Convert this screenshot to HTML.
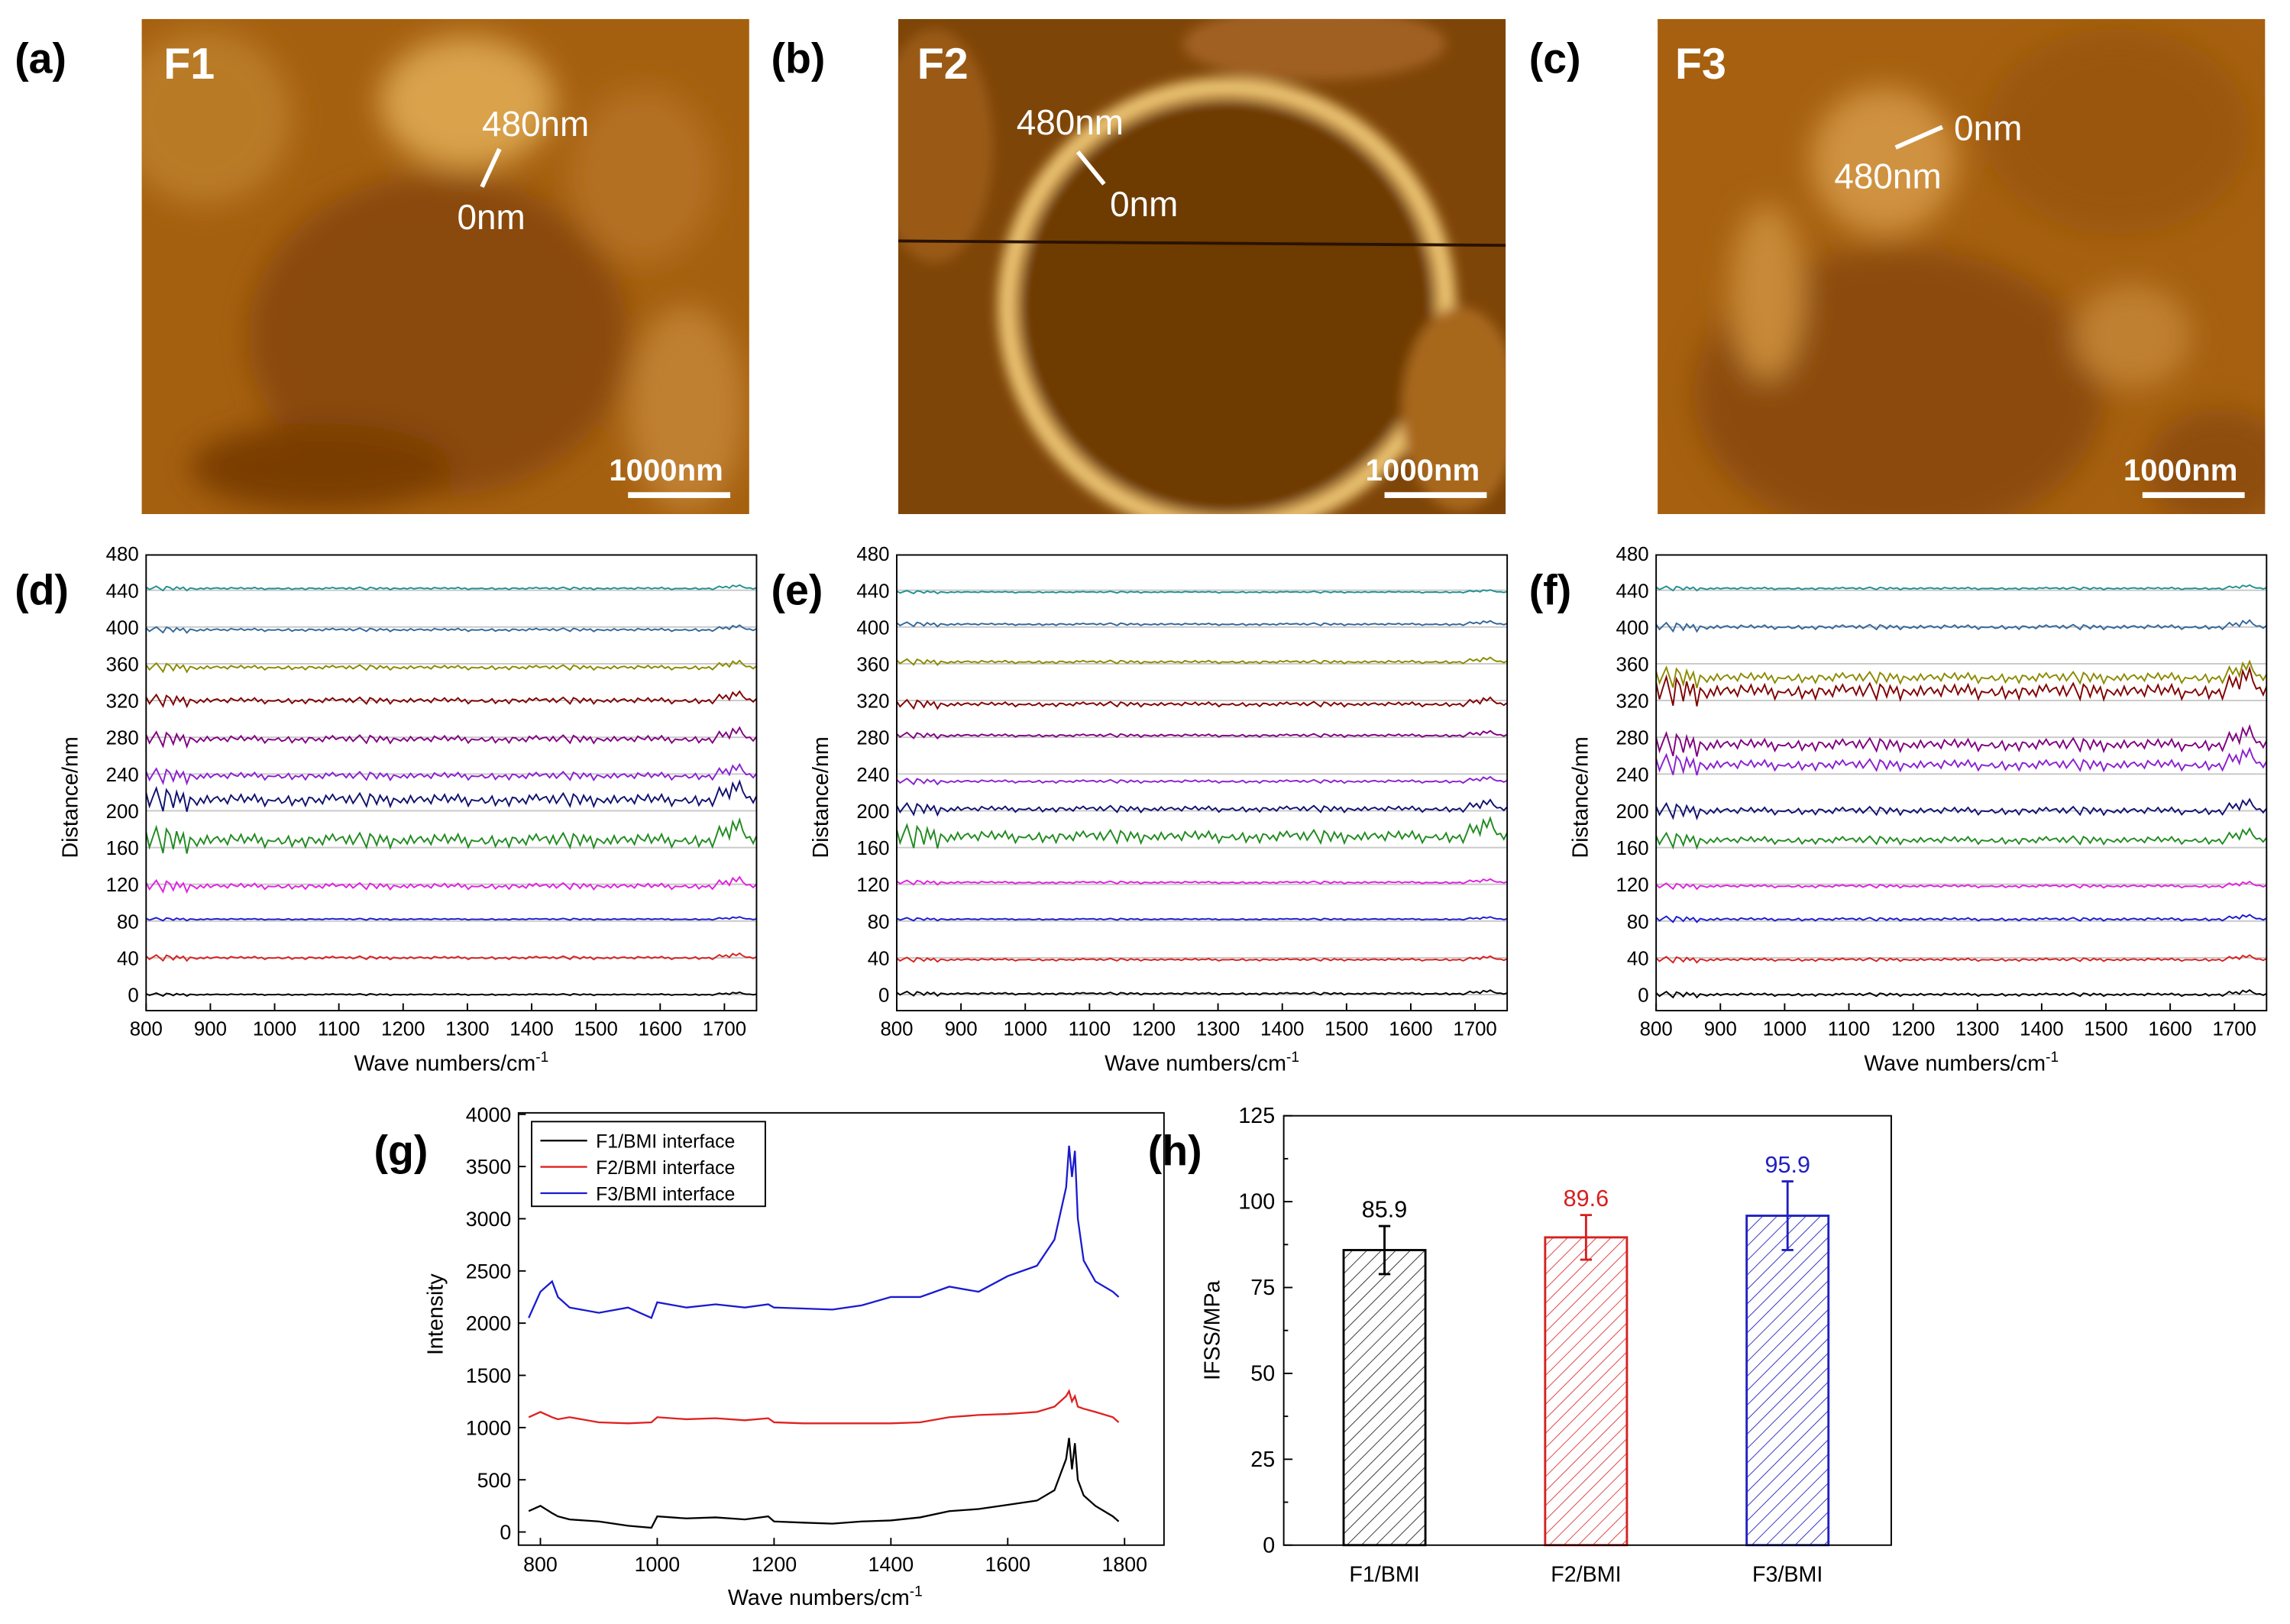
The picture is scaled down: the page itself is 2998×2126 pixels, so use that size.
<!DOCTYPE html>
<html><head><meta charset="utf-8"><style>
html,body{margin:0;padding:0;background:#fff}
svg{display:block}
text{font-family:"Liberation Sans",Arial,sans-serif}
</style></head><body>
<svg id="fig" width="2998" height="2126" viewBox="0 0 1568 1112" xmlns="http://www.w3.org/2000/svg">
<defs>
<filter id="blur8"><feGaussianBlur stdDeviation="10"/></filter>
<filter id="blur4"><feGaussianBlur stdDeviation="4"/></filter>
<clipPath id="ca"><rect x="97" y="13" width="416" height="339"/></clipPath>
<clipPath id="cb"><rect x="615" y="13" width="416" height="339"/></clipPath>
<clipPath id="cc"><rect x="1135" y="13" width="416" height="339"/></clipPath>
<pattern id="hatchK" width="7" height="7" patternUnits="userSpaceOnUse" patternTransform="rotate(45)"><line x1="0" y1="0" x2="0" y2="7" stroke="#333" stroke-width="1"/></pattern>
<pattern id="hatchR" width="7" height="7" patternUnits="userSpaceOnUse" patternTransform="rotate(45)"><line x1="0" y1="0" x2="0" y2="7" stroke="#e04040" stroke-width="1"/></pattern>
<pattern id="hatchB" width="7" height="7" patternUnits="userSpaceOnUse" patternTransform="rotate(45)"><line x1="0" y1="0" x2="0" y2="7" stroke="#3030c0" stroke-width="1"/></pattern>
</defs>

<g clip-path="url(#ca)">
<rect x="97" y="13" width="416" height="339" fill="#a5600f"/>
<g filter="url(#blur8)">
<ellipse cx="300" cy="230" rx="130" ry="110" fill="#8a4a08"/>
<ellipse cx="320" cy="70" rx="60" ry="45" fill="#d9a24c"/>
<ellipse cx="140" cy="80" rx="60" ry="60" fill="#b97a25"/>
<ellipse cx="470" cy="280" rx="40" ry="70" fill="#c08030"/>
<ellipse cx="220" cy="320" rx="90" ry="30" fill="#7a3c05"/>
<ellipse cx="440" cy="120" rx="50" ry="60" fill="#b47020"/>
</g>
</g>
<g clip-path="url(#cb)">
<rect x="615" y="13" width="416" height="339" fill="#7e4508"/>
<g filter="url(#blur4)">
<circle cx="840" cy="210" r="150" fill="none" stroke="#e8c070" stroke-width="14"/>
<circle cx="840" cy="210" r="140" fill="#6e3a06"/>
<ellipse cx="640" cy="100" rx="40" ry="80" fill="#9a5a15"/>
<ellipse cx="1000" cy="280" rx="40" ry="70" fill="#a8681c"/>
<ellipse cx="900" cy="30" rx="90" ry="25" fill="#a06020"/>
</g>
<line x1="615" y1="165" x2="1031" y2="168" stroke="#2a1200" stroke-width="2"/>
</g>
<g clip-path="url(#cc)">
<rect x="1135" y="13" width="416" height="339" fill="#a6600f"/>
<g filter="url(#blur8)">
<ellipse cx="1300" cy="270" rx="140" ry="100" fill="#8c4c0a"/>
<ellipse cx="1450" cy="90" rx="90" ry="70" fill="#9a560c"/>
<ellipse cx="1290" cy="110" rx="50" ry="50" fill="#cf9240"/>
<ellipse cx="1210" cy="200" rx="25" ry="60" fill="#c88a38"/>
<ellipse cx="1460" cy="230" rx="40" ry="35" fill="#c08032"/>
<ellipse cx="1520" cy="320" rx="50" ry="40" fill="#8e4d0a"/>
</g>
</g>

<g font-weight="bold" fill="#000" font-size="29">
<text x="10" y="50">(a)</text>
<text x="528" y="50">(b)</text>
<text x="1047" y="50">(c)</text>
<text x="10" y="414">(d)</text>
<text x="528" y="414">(e)</text>
<text x="1047" y="414">(f)</text>
<text x="256" y="798">(g)</text>
<text x="786" y="798">(h)</text>
</g>
<g fill="#fff">
<text x="112" y="54" font-size="30" font-weight="bold">F1</text>
<text x="628" y="54" font-size="30" font-weight="bold">F2</text>
<text x="1147" y="54" font-size="30" font-weight="bold">F3</text>
<text x="330" y="93" font-size="24">480nm</text><line x1="342" y1="102" x2="330" y2="128" stroke="#fff" stroke-width="3"/><text x="313" y="157" font-size="24">0nm</text>
<text x="696" y="92" font-size="24">480nm</text><line x1="738" y1="104" x2="756" y2="126" stroke="#fff" stroke-width="3"/><text x="760" y="148" font-size="24">0nm</text>
<text x="1338" y="96" font-size="24">0nm</text><line x1="1330" y1="87" x2="1298" y2="101" stroke="#fff" stroke-width="3"/><text x="1256" y="129" font-size="24">480nm</text>
<text x="417" y="329" font-size="21" font-weight="bold">1000nm</text><rect x="430" y="337" width="70" height="4"/>
<text x="935" y="329" font-size="21" font-weight="bold">1000nm</text><rect x="948" y="337" width="70" height="4"/>
<text x="1454" y="329" font-size="21" font-weight="bold">1000nm</text><rect x="1467" y="337" width="70" height="4"/>
</g>
<g id="plots"></g>
</svg>
<script>
const distTicks=[0,40,80,120,160,200,240,280,320,360,400,440,480];
const waveTicks=[800,900,1000,1100,1200,1300,1400,1500,1600,1700];
const traceColors=["#000000","#d62020","#1a1ad0","#e020e0","#208a20","#101070","#8a20d0","#800080","#800000","#8a8a00","#336699","#209090"];
const offsetsD=[0,40,82,118,168,212,238,278,320,356,397,442];
const ampD=[1,2,1,4,9,8,5,5,4,3,2,1.5];
const offsetsE=[1,38,82,122,172,202,232,282,316,362,403,438];
const ampE=[1.5,1.5,1,1.5,8,4,2,2,3,2,1.5,1];
const offsetsF=[0,38,82,118,168,200,250,272,330,345,400,442];
const ampF=[2,2,2,2,5,5,7,8,10,7,3,1.5];
const noise=[0.6,-0.9,0.3,1,-0.4,-1,0.8,0.2,-0.7,0.5,-0.2,0.9,-1,0.4,0.1,-0.6,0.7,-0.3,0.5,-0.8,0.2,0.9,-0.5,0.3,-1,0.6,0.1,-0.4,0.8,-0.7,0.4,-0.2,1,-0.6,0.3,-0.9,0.5,0.2,-0.3,0.7,-0.5,0.1,0.9,-0.8,0.4,-0.1,0.6,-1,0.3,0.8,-0.4,0.2,-0.7,0.5,-0.2,0.9,-0.6,0.1,0.4,-0.9];
const gX=[780,800,820,830,850,900,950,990,1000,1050,1100,1150,1190,1200,1250,1300,1350,1400,1450,1500,1550,1600,1650,1680,1700,1705,1710,1715,1720,1730,1750,1780,1790];
const gBlack=[200,250,180,150,120,100,60,40,150,130,140,120,150,100,90,80,100,110,140,200,220,260,300,400,700,900,600,850,500,350,250,150,100];
const gRed=[1100,1150,1100,1080,1100,1050,1040,1050,1100,1080,1090,1070,1090,1050,1040,1040,1040,1040,1050,1100,1120,1130,1150,1200,1300,1350,1250,1300,1200,1180,1150,1100,1050];
const gBlue=[2050,2300,2400,2250,2150,2100,2150,2050,2200,2150,2180,2150,2180,2150,2140,2130,2170,2250,2250,2350,2300,2450,2550,2800,3300,3700,3400,3650,3000,2600,2400,2300,2250];
const gYTicks=[0,500,1000,1500,2000,2500,3000,3500,4000];
const gXTicks=[800,1000,1200,1400,1600,1800];
const gNames=["F1/BMI interface","F2/BMI interface","F3/BMI interface"];
const hCats=["F1/BMI","F2/BMI","F3/BMI"];
const hVals=[85.9,89.6,95.9];
const hErr=[7,6.5,10];
const hYTicks=[0,25,50,75,100,125];
const hColors=["#000","#d62020","#2020c0"];
const hFills=["url(#hatchK)","url(#hatchR)","url(#hatchB)"];

const NS="http://www.w3.org/2000/svg";
const root=document.getElementById("plots");
function mk(tag,attrs,parent,txt){const e=document.createElementNS(NS,tag);for(const k in attrs)e.setAttribute(k,attrs[k]);if(txt!==undefined)e.textContent=txt;(parent||root).appendChild(e);return e;}

function distPanel(name,x0,offsets,amps){
  const L=x0,R=x0+418,T=380,B=692;
  const sx=v=>L+(v-800)*(R-L)/950;
  const sy=v=>681-v*(681-379)/480;
  const g=mk("g",{});
  
  
  distTicks.forEach(t=>{ if(t<480) mk("line",{x1:L,x2:R,y1:sy(t),y2:sy(t),stroke:"#c8c8c8","stroke-width":1},g);
    const tl=mk("text",{x:L-5,y:sy(t)+5,"text-anchor":"end","font-size":13.5},g,String(t));
    
    });
  offsets.forEach((off,i)=>{
    let pts=[];const n=noise.length*3;
    for(let k=0;k<=n;k++){const w=800+950*k/n;let d=noise[k%noise.length]*amps[i]*0.6+noise[(k*7)%noise.length]*amps[i]*0.3;
      if(w<880)d*=1.8; if(w>1690&&w<1730)d=d*1.8+amps[i]*1.2;
      pts.push(sx(w).toFixed(1)+","+sy(off+d).toFixed(1));}
    const p=mk("polyline",{points:pts.join(" "),fill:"none",stroke:traceColors[i],"stroke-width":1},g);
    
    
  });
  mk("rect",{x:L,y:T,width:R-L,height:B-T,fill:"none",stroke:"#000","stroke-width":1},g);
  waveTicks.forEach(t=>{mk("line",{x1:sx(t),x2:sx(t),y1:B,y2:B-5,stroke:"#000"},g);
    const tl=mk("text",{x:sx(t),y:B+17,"text-anchor":"middle","font-size":13.5},g,String(t));
    
    });
  const xt=mk("text",{x:(L+R)/2,y:733,"text-anchor":"middle","font-size":15},g);
  xt.innerHTML='Wave numbers/cm<tspan dy="-6" font-size="10">-1</tspan>';
  
  
  const yt=mk("text",{x:0,y:0,"text-anchor":"middle","font-size":15,transform:`translate(${L-47},${(T+B)/2+10}) rotate(-90)`},g,"Distance/nm");
  
  
}
distPanel("panel-d-chart",100,offsetsD,ampD);
distPanel("panel-e-chart",614,offsetsE,ampE);
distPanel("panel-f-chart",1134,offsetsF,ampF);

(function(){
  const L=355,R=797,T=762,B=1058;
  const sx=v=>370+(v-800)*0.4;
  const sy=v=>1049-v*0.0715;
  const g=mk("g",{});
  
  
  [[gBlack,"#000"],[gRed,"#e02020"],[gBlue,"#1a1ad0"]].forEach(([arr,c],i)=>{
    const pts=gX.map((x,k)=>sx(x).toFixed(1)+","+sy(arr[k]).toFixed(1)).join(" ");
    const p=mk("polyline",{points:pts,fill:"none",stroke:c,"stroke-width":1.2},g);
    
    
  });
  mk("rect",{x:L,y:T,width:R-L,height:B-T,fill:"none",stroke:"#000"},g);
  gYTicks.forEach(t=>{mk("line",{x1:L,x2:L+5,y1:sy(t),y2:sy(t),stroke:"#000"},g);
    const tl=mk("text",{x:L-5,y:sy(t)+5,"text-anchor":"end","font-size":14},g,String(t));
    
    });
  gXTicks.forEach(t=>{mk("line",{x1:sx(t),x2:sx(t),y1:B,y2:B-5,stroke:"#000"},g);
    const tl=mk("text",{x:sx(t),y:B+18,"text-anchor":"middle","font-size":14},g,String(t));
    
    });
  const xt=mk("text",{x:565,y:1099,"text-anchor":"middle","font-size":15},g);
  xt.innerHTML='Wave numbers/cm<tspan dy="-6" font-size="10">-1</tspan>';
  
  
  const yt=mk("text",{x:0,y:0,"text-anchor":"middle","font-size":15,transform:`translate(303,900) rotate(-90)`},g,"Intensity");
  
  
  const lg=mk("g",{},g);
  
  
  mk("rect",{x:364,y:768,width:160,height:58,fill:"#fff",stroke:"#000"},lg);
  ["#000","#e02020","#1a1ad0"].forEach((c,i)=>{
    mk("line",{x1:370,x2:402,y1:781+i*18,y2:781+i*18,stroke:c,"stroke-width":1.2},lg);
    const t=mk("text",{x:408,y:786+i*18,"font-size":13},lg,gNames[i]);
    
    
  });
})();

(function(){
  const L=879,R=1295,T=764,B=1058;
  const sy=v=>B-v*(B-T)/125;
  const cx=[948,1086,1224];
  const g=mk("g",{});
  
  
  hVals.forEach((v,i)=>{
    const b=mk("rect",{x:cx[i]-28,y:sy(v),width:56,height:B-sy(v),fill:hFills[i],stroke:hColors[i],"stroke-width":1.5},g);
    
    
    const e=mk("path",{d:`M${cx[i]},${sy(v+hErr[i])}V${sy(v-hErr[i])}M${cx[i]-4},${sy(v+hErr[i])}H${cx[i]+4}M${cx[i]-4},${sy(v-hErr[i])}H${cx[i]+4}`,stroke:hColors[i],"stroke-width":1.5,fill:"none"},g);
    
    
    const t=mk("text",{x:cx[i],y:sy(v+hErr[i])-6,"text-anchor":"middle","font-size":16,fill:hColors[i]},g,v.toFixed(1));
    
    
    const c=mk("text",{x:cx[i],y:B+25,"text-anchor":"middle","font-size":15},g,hCats[i]);
    
    
  });
  mk("rect",{x:L,y:T,width:R-L,height:B-T,fill:"none",stroke:"#000"},g);
  hYTicks.forEach(t=>{mk("line",{x1:L,x2:L+6,y1:sy(t),y2:sy(t),stroke:"#000"},g);
    if(t<125) mk("line",{x1:L,x2:L+3,y1:sy(t+12.5),y2:sy(t+12.5),stroke:"#000"},g);
    const tl=mk("text",{x:L-6,y:sy(t)+5,"text-anchor":"end","font-size":15},g,String(t));
    
    });
  const yt=mk("text",{x:0,y:0,"text-anchor":"middle","font-size":15,transform:`translate(835,${(T+B)/2}) rotate(-90)`},g,"IFSS/MPa");
  
  
})();
</script>
</body></html>
